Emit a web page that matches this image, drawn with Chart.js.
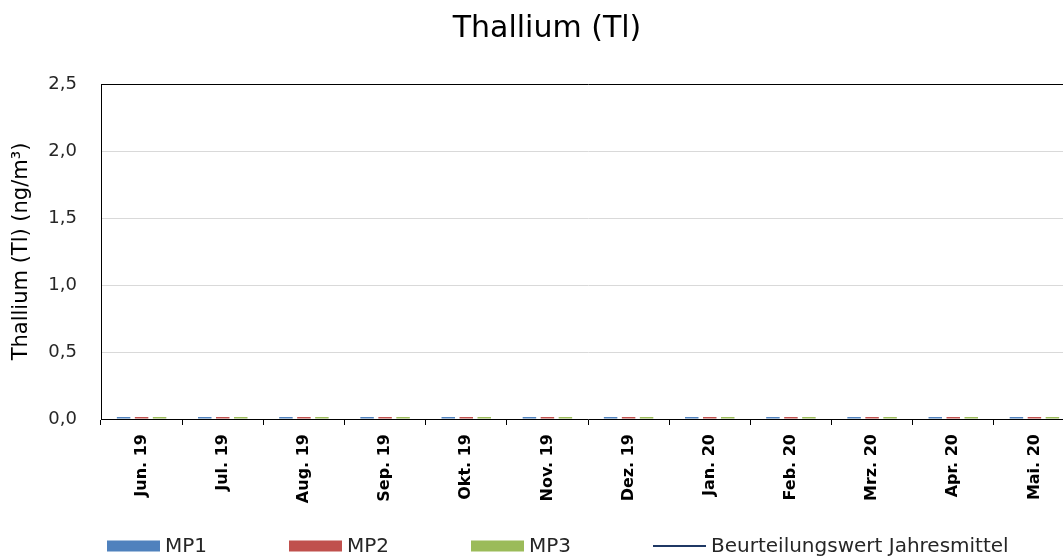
<!DOCTYPE html>
<html lang="de">
<head>
<meta charset="utf-8">
<title>Thallium (Tl)</title>
<script src="https://cdn.jsdelivr.net/npm/chart.js@4"></script>
<style>
  html, body { margin: 0; padding: 0; background: #fff; overflow: hidden; }
  #wrap { width: 1094px; height: 580px; }
</style>
</head>
<body>
<div id="wrap"><canvas id="chart"></canvas></div>
<script>
// --- Data ---
const months = ['Jun. 19', 'Jul. 19', 'Aug. 19', 'Sep. 19', 'Okt. 19', 'Nov. 19',
                'Dez. 19', 'Jan. 20', 'Feb. 20', 'Mrz. 20', 'Apr. 20', 'Mai. 20'];
const mp1 = [0.015, 0.015, 0.015, 0.015, 0.015, 0.015, 0.015, 0.015, 0.015, 0.015, 0.015, 0.015];
const mp2 = [0.015, 0.015, 0.015, 0.015, 0.015, 0.015, 0.015, 0.015, 0.015, 0.015, 0.015, 0.015];
const mp3 = [0.015, 0.015, 0.015, 0.015, 0.015, 0.015, 0.015, 0.015, 0.015, 0.015, 0.015, 0.015];
// annual assessment value is off the plotted range, only listed in the legend
const jahresmittel = [null, null, null, null, null, null, null, null, null, null, null, null];
const yTicks = [0, 0.5, 1.0, 1.5, 2.0, 2.5];

const FONT = '"DejaVu Sans", "Open Sans", sans-serif';
const TEXT = '#262626';

// --- Legend below the plot, equal slots like the office style ---
const legendBelow = {
  id: 'legendBelow',
  afterDraw(chart, args, opts) {
    const ctx = chart.ctx;
    ctx.save();
    ctx.font = opts.font;
    ctx.textBaseline = 'middle';
    chart.data.datasets.forEach((ds, i) => {
      const x = opts.left + i * opts.slot;
      if (ds.type === 'line') {
        ctx.strokeStyle = ds.borderColor;
        ctx.lineWidth = 2;
        ctx.beginPath();
        ctx.moveTo(x, opts.y);
        ctx.lineTo(x + opts.boxWidth, opts.y);
        ctx.stroke();
      } else {
        ctx.fillStyle = ds.backgroundColor;
        ctx.fillRect(x, opts.y - opts.boxHeight / 2, opts.boxWidth, opts.boxHeight);
      }
      ctx.fillStyle = TEXT;
      ctx.fillText(ds.label, x + opts.boxWidth + 5, opts.y + 1);
    });
    ctx.restore();
  }
};

const barStyle = { categoryPercentage: 0.665, barPercentage: 0.75, borderWidth: 0 };

new Chart(document.getElementById('chart'), {
  type: 'bar',
  data: {
    labels: months,
    datasets: [
      { label: 'MP1', data: mp1, backgroundColor: '#4F81BD', ...barStyle },
      { label: 'MP2', data: mp2, backgroundColor: '#C0504D', ...barStyle },
      { label: 'MP3', data: mp3, backgroundColor: '#9BBB59', ...barStyle },
      { type: 'line', label: 'Beurteilungswert Jahresmittel', data: jahresmittel,
        borderColor: '#1F3864', borderWidth: 2, pointRadius: 0 }
    ]
  },
  options: {
    responsive: true,
    maintainAspectRatio: false,
    animation: false,
    layout: { padding: { top: 0, left: 0, right: 0, bottom: 56 } },
    plugins: {
      legend: { display: false },
      tooltip: { enabled: false },
      title: {
        display: true,
        text: 'Thallium (Tl)',
        color: '#000',
        font: { family: FONT, size: 30, weight: 'normal', lineHeight: 1.2 },
        padding: { top: 11, bottom: 37 }
      },
      legendBelow: {
        left: 107, slot: 182, y: 546, boxWidth: 53, boxHeight: 11,
        font: '20px ' + FONT
      }
    },
    scales: {
      x: {
        offset: true,
        grid: { display: true, offset: true, drawOnChartArea: false, drawTicks: true,
                tickLength: 6, color: '#000' },
        border: { display: true, color: '#000', width: 1 },
        ticks: {
          color: '#000', minRotation: 90, maxRotation: 90, padding: 9,
          autoSkip: false, font: { family: FONT, size: 16, weight: 'bold' }
        },
        // plot ends short of the canvas edge on the right
        afterFit: s => { s.height = 105; s.paddingRight = 19; }
      },
      y: {
        min: 0,
        max: 2.5,
        afterBuildTicks: s => { s.ticks = yTicks.map(v => ({ value: v })); },
        grid: {
          drawTicks: false,
          color: c => (c.tick && c.tick.value === 2.5 ? '#000' : '#D9D9D9')
        },
        border: { display: true, color: '#000', width: 1 },
        ticks: {
          color: TEXT, padding: 24,
          font: { family: FONT, size: 18 },
          callback: v => v.toFixed(1).replace('.', ',')
        },
        title: {
          display: true,
          text: 'Thallium (Tl) (ng/m³)',
          color: '#000',
          font: { family: FONT, size: 21 },
          padding: { top: 9, bottom: 0 }
        },
        afterFit: s => { s.width = 101; }
      }
    }
  },
  plugins: [legendBelow]
});
</script>
</body>
</html>
